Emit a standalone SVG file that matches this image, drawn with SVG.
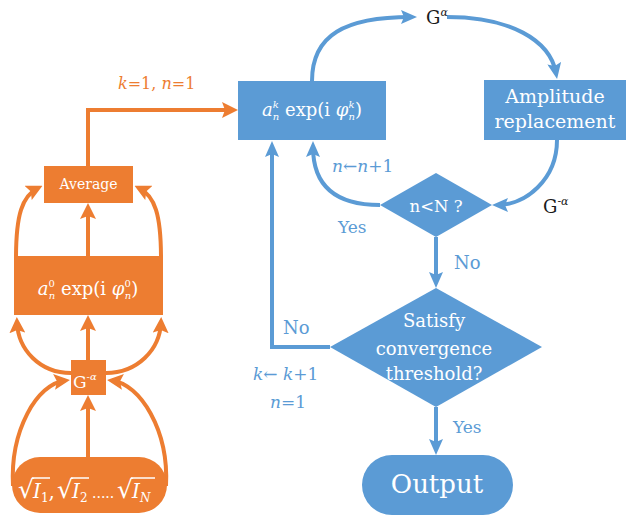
<svg xmlns="http://www.w3.org/2000/svg" width="628" height="519" viewBox="0 0 628 519">
<style>
.o{fill:none;stroke:#ED7D31;stroke-width:4}
.b{fill:none;stroke:#5B9BD5;stroke-width:4}
.of{fill:#ED7D31}
.bf{fill:#5B9BD5}
text{font-family:"DejaVu Serif","Liberation Serif",serif}
.wt{fill:#FFFFFF}
.lb{fill:#5B9BD5}
.lo{fill:#ED7D31}
.bk{fill:#1A1A1A}
.it{font-style:italic}
.ov{stroke:#FFFFFF;stroke-width:1.5}
</style>
<defs>
<marker id="ao" viewBox="0 0 16 16" refX="11" refY="8" markerWidth="16" markerHeight="16" markerUnits="userSpaceOnUse" orient="auto"><path d="M0,0 L16,8 L0,16 L3,8 z" fill="#ED7D31"/></marker>
<marker id="ab" viewBox="0 0 16 14" refX="10" refY="7" markerWidth="16" markerHeight="14" markerUnits="userSpaceOnUse" orient="auto"><path d="M0,0 L16,7 L0,14 L3,7 z" fill="#5B9BD5"/></marker>
</defs>
<g id="connectors">
<path class="o" d="M88,166 V110 H233" marker-end="url(#ao)"/>
<path class="o" d="M88,256 V208" marker-end="url(#ao)"/>
<path class="o" d="M16,258 C16,215 22,196 38,188" marker-end="url(#ao)"/>
<path class="o" d="M161,258 C161,215 155,196 139,188" marker-end="url(#ao)"/>
<path class="o" d="M88,360 V320" marker-end="url(#ao)"/>
<path class="o" d="M71,373 C40,373 18,350 17,322" marker-end="url(#ao)"/>
<path class="o" d="M106,373 C137,373 160,350 161,322" marker-end="url(#ao)"/>
<path class="o" d="M88,457 V400" marker-end="url(#ao)"/>
<path class="o" d="M13,486 C10,430 37,384 65,380.5" marker-end="url(#ao)"/>
<path class="o" d="M166,486 C169,430 140,384 112,380.5" marker-end="url(#ao)"/>
<path class="b" d="M312,81 C312,35 345,17 411,17" marker-end="url(#ab)"/>
<path class="b" d="M447,17 C510,17 550,40 556,73" marker-end="url(#ab)"/>
<path class="b" d="M557,140 C557,180 525,205 498,205" marker-end="url(#ab)"/>
<path class="b" d="M380,205 C335,205 313,185 313,147" marker-end="url(#ab)"/>
<path class="b" d="M436,237 V282" marker-end="url(#ab)"/>
<path class="b" d="M330,347 H272 V147" marker-end="url(#ab)"/>
<path class="b" d="M436,407 V449" marker-end="url(#ab)"/>
</g>
<g id="labels">
<text class="lo" x="118" y="89" font-size="16"><tspan class="it">k</tspan>=1, <tspan class="it">n</tspan>=1</text>
<text class="bk" x="426" y="24" font-size="18">G<tspan font-size="11" dy="-8" class="it">α</tspan></text>
<text class="bk" x="543" y="213" font-size="18">G<tspan font-size="11" dy="-8">-</tspan><tspan font-size="11" class="it">α</tspan></text>
<text class="lb" x="332" y="172" font-size="17"><tspan class="it">n</tspan>←<tspan class="it">n</tspan>+1</text>
<text class="lb" x="338" y="233" font-size="17">Yes</text>
<text class="lb" x="454" y="269" font-size="18">No</text>
<text class="lb" x="283" y="334" font-size="18">No</text>
<text class="lb" x="253" y="380" font-size="17"><tspan class="it">k</tspan>← <tspan class="it">k</tspan>+1</text>
<text class="lb" x="270" y="408" font-size="17"><tspan class="it">n</tspan>=1</text>
<text class="lb" x="453" y="433" font-size="17">Yes</text>
</g>
<g id="average">
<rect class="of" x="44" y="166" width="89" height="37"/>
<text class="wt" x="88.5" y="189" font-size="14" text-anchor="middle">Average</text>
</g>
<g id="init">
<rect class="of" x="14" y="256" width="149" height="59"/>
<text class="wt" x="88" y="295" font-size="18" text-anchor="middle"><tspan class="it">a</tspan><tspan font-size="10" dy="-8">0</tspan><tspan font-size="10" class="it" dx="-6" dy="12">n</tspan><tspan dy="-4"> exp(i </tspan><tspan class="it">φ</tspan><tspan font-size="10" dy="-8">0</tspan><tspan font-size="10" class="it" dx="-6" dy="12">n</tspan><tspan dy="-4">)</tspan></text>
</g>
<g id="gneg">
<rect class="of" x="71" y="360" width="35" height="35"/>
<text class="wt" x="73" y="388" font-size="17">G<tspan font-size="10" dy="-8">-</tspan><tspan font-size="10" class="it">α</tspan></text>
</g>
<g id="intensity">
<rect class="of" x="12" y="457" width="155" height="56" rx="28"/>
<text class="wt" y="498" font-size="20"><tspan x="18" font-size="25">√</tspan><tspan x="33" class="it">I</tspan><tspan font-size="12" dy="4">1</tspan><tspan dy="-4">,</tspan><tspan x="57" font-size="25">√</tspan><tspan x="72" class="it">I</tspan><tspan font-size="12" dy="4">2</tspan><tspan x="92" dy="-4" font-size="14">.....</tspan><tspan x="117" font-size="25">√</tspan><tspan x="132" class="it">I</tspan><tspan font-size="12" class="it" dy="4">N</tspan></text>
<line class="ov" x1="32" y1="478" x2="50" y2="478"/>
<line class="ov" x1="71" y1="478" x2="89" y2="478"/>
<line class="ov" x1="131" y1="478" x2="155" y2="478"/>
</g>
<g id="current">
<rect class="bf" x="238" y="81" width="148" height="59"/>
<text class="wt" x="312" y="116" font-size="18" text-anchor="middle"><tspan class="it">a</tspan><tspan font-size="10" class="it" dy="-8">k</tspan><tspan font-size="10" class="it" dx="-6" dy="12">n</tspan><tspan dy="-4"> exp(i </tspan><tspan class="it">φ</tspan><tspan font-size="10" class="it" dy="-8">k</tspan><tspan font-size="10" class="it" dx="-6" dy="12">n</tspan><tspan dy="-4">)</tspan></text>
</g>
<g id="amplitude">
<rect class="bf" x="484" y="80" width="142" height="60"/>
<text class="wt" x="555" y="103" font-size="19" text-anchor="middle">Amplitude</text>
<text class="wt" x="555" y="128" font-size="19" text-anchor="middle">replacement</text>
</g>
<g id="nlessN">
<polygon class="bf" points="436,173 492,205 436,237 380,205"/>
<text class="wt" x="436" y="212" font-size="16.5" text-anchor="middle">n&lt;N ?</text>
</g>
<g id="converge">
<polygon class="bf" points="436,288 542,347 436,407 330,347"/>
<text class="wt" x="434" y="327" font-size="18" text-anchor="middle">Satisfy</text>
<text class="wt" x="434" y="355" font-size="18" text-anchor="middle">convergence</text>
<text class="wt" x="434" y="380" font-size="18" text-anchor="middle">threshold?</text>
</g>
<g id="output">
<rect class="bf" x="362" y="455" width="151" height="60" rx="30"/>
<text class="wt" x="437" y="493" font-size="26" text-anchor="middle">Output</text>
</g>
</svg>
